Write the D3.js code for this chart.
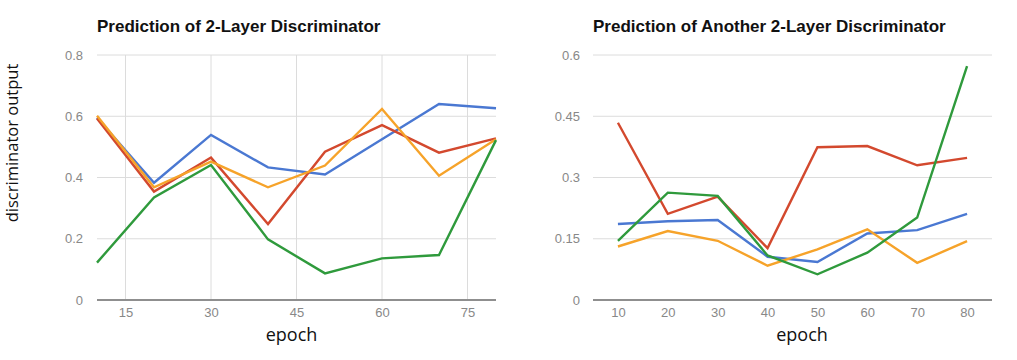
<!DOCTYPE html>
<html>
<head>
<meta charset="utf-8">
<script src="https://cdn.jsdelivr.net/npm/d3@7"></script>
<style>
  html, body { margin: 0; padding: 0; background: #fff; }
  svg { display: block; }
</style>
</head>
<body>
<svg id="chart" width="1017" height="360"></svg>
<script>
// ---- Data ----
const epochs = [10, 20, 30, 40, 50, 60, 70, 80];

// Left chart: Prediction of 2-Layer Discriminator
const leftBlue   = [0.595, 0.383, 0.539, 0.433, 0.410, 0.525, 0.640, 0.626];
const leftRed    = [0.593, 0.354, 0.465, 0.248, 0.484, 0.571, 0.481, 0.528];
const leftOrange = [0.602, 0.368, 0.452, 0.368, 0.439, 0.624, 0.406, 0.525];
const leftGreen  = [0.122, 0.335, 0.441, 0.198, 0.087, 0.136, 0.147, 0.522];

// Right chart: Prediction of Another 2-Layer Discriminator
const rightBlue   = [0.186, 0.193, 0.196, 0.106, 0.093, 0.163, 0.171, 0.211];
const rightRed    = [0.434, 0.211, 0.253, 0.127, 0.374, 0.377, 0.330, 0.348];
const rightOrange = [0.131, 0.169, 0.145, 0.084, 0.124, 0.173, 0.091, 0.144];
const rightGreen  = [0.145, 0.263, 0.255, 0.109, 0.063, 0.116, 0.202, 0.573];

const leftXTicks  = [15, 30, 45, 60, 75];
const leftYTicks  = [0, 0.2, 0.4, 0.6, 0.8];
const rightYTicks = [0, 0.15, 0.3, 0.45, 0.6];
const rightYTickLabels = ["0", "0.15", "0.3", "0.45", "0.6"];

const seriesColors = ["#4a78d2", "#d3492e", "#f6a32a", "#2f9a3c"];

const svg = d3.select("#chart");
const gridColor = "#dcdcdc";
const tickColor = "#888888";
const fontSans = "'Liberation Sans', Arial, sans-serif";
const fontLabel = "'Open Sans', 'Noto Sans', sans-serif";

function drawLines(g, x, y, xs, seriesList) {
  const line = d3.line().x((d, i) => x(xs[i])).y(d => y(d));
  seriesList.forEach((s, k) => {
    g.append("path")
      .datum(s)
      .attr("fill", "none")
      .attr("stroke", seriesColors[k])
      .attr("stroke-width", 2.4)
      .attr("stroke-linejoin", "miter")
      .attr("d", line);
  });
}

// ---------- Left chart ----------
{
  const L = 97, R = 496, T = 55, B = 300;
  const x = d3.scaleLinear().domain([10, 80]).range([L, R]);
  const y = d3.scaleLinear().domain([0, 0.8]).range([B, T]);
  const g = svg.append("g");

  g.append("g").selectAll("line").data(leftXTicks).join("line")
    .attr("x1", d => x(d)).attr("x2", d => x(d))
    .attr("y1", T).attr("y2", B)
    .attr("stroke", gridColor).attr("stroke-width", 1);
  g.append("g").selectAll("line").data(leftYTicks.slice(1)).join("line")
    .attr("x1", L).attr("x2", R)
    .attr("y1", d => y(d)).attr("y2", d => y(d))
    .attr("stroke", gridColor).attr("stroke-width", 1);

  const yAxis = d3.axisLeft(y).tickValues(leftYTicks).tickSize(0).tickPadding(14)
    .tickFormat(d => d === 0 ? "0" : d3.format(".1f")(d));
  const ya = g.append("g").attr("transform", `translate(${L},0)`).call(yAxis);
  ya.select(".domain").remove();
  ya.selectAll("text").attr("fill", tickColor).style("font-family", fontSans).style("font-size", "13px");

  const xAxis = d3.axisBottom(x).tickValues(leftXTicks).tickSize(0).tickPadding(8);
  const xa = g.append("g").attr("transform", `translate(0,${B})`).call(xAxis);
  xa.select(".domain").remove();
  xa.selectAll("text").attr("fill", tickColor).style("font-family", fontSans).style("font-size", "13px");

  drawLines(g, x, y, epochs, [leftBlue, leftRed, leftOrange, leftGreen]);

  g.append("line").attr("x1", L).attr("x2", R).attr("y1", y(0)).attr("y2", y(0))
    .attr("stroke", "#8f8f8f").attr("stroke-width", 2);

  g.append("text").attr("x", L).attr("y", 32)
    .style("font-family", fontSans).style("font-weight", "bold").style("font-size", "17px")
    .attr("fill", "#111").text("Prediction of 2-Layer Discriminator");

  g.append("text").attr("x", (L + R) / 2 - 5).attr("y", 341).attr("text-anchor", "middle")
    .style("font-family", fontLabel).style("font-size", "18px").attr("fill", "#111").text("epoch");

  g.append("text").attr("transform", `translate(18,143) rotate(-90)`).attr("text-anchor", "middle")
    .style("font-family", fontLabel).style("font-size", "16.5px").attr("fill", "#111").text("discriminator output");
}

// ---------- Right chart ----------
{
  const L = 593, R = 992, T = 55, B = 300;
  const x = d3.scalePoint().domain(epochs).range([L, R]).padding(0.5);
  const y = d3.scaleLinear().domain([0, 0.6]).range([B, T]);
  const g = svg.append("g");

  g.append("g").selectAll("line").data(rightYTicks.slice(1)).join("line")
    .attr("x1", L).attr("x2", R)
    .attr("y1", d => y(d)).attr("y2", d => y(d))
    .attr("stroke", gridColor).attr("stroke-width", 1);

  const yAxis = d3.axisLeft(y).tickValues(rightYTicks).tickSize(0).tickPadding(13)
    .tickFormat((d, i) => rightYTickLabels[i]);
  const ya = g.append("g").attr("transform", `translate(${L},0)`).call(yAxis);
  ya.select(".domain").remove();
  ya.selectAll("text").attr("fill", tickColor).style("font-family", fontSans).style("font-size", "13px");

  const xAxis = d3.axisBottom(x).tickSize(0).tickPadding(8);
  const xa = g.append("g").attr("transform", `translate(0,${B})`).call(xAxis);
  xa.select(".domain").remove();
  xa.selectAll("text").attr("fill", tickColor).style("font-family", fontSans).style("font-size", "13px");

  drawLines(g, d => x(d), y, epochs, [rightBlue, rightRed, rightOrange, rightGreen]);

  g.append("line").attr("x1", L).attr("x2", R).attr("y1", y(0)).attr("y2", y(0))
    .attr("stroke", "#8f8f8f").attr("stroke-width", 2);

  g.append("text").attr("x", L).attr("y", 32)
    .style("font-family", fontSans).style("font-weight", "bold").style("font-size", "17px")
    .attr("fill", "#111").text("Prediction of Another 2-Layer Discriminator");

  g.append("text").attr("x", 802).attr("y", 341).attr("text-anchor", "middle")
    .style("font-family", fontLabel).style("font-size", "18px").attr("fill", "#111").text("epoch");
}
</script>
</body>
</html>
